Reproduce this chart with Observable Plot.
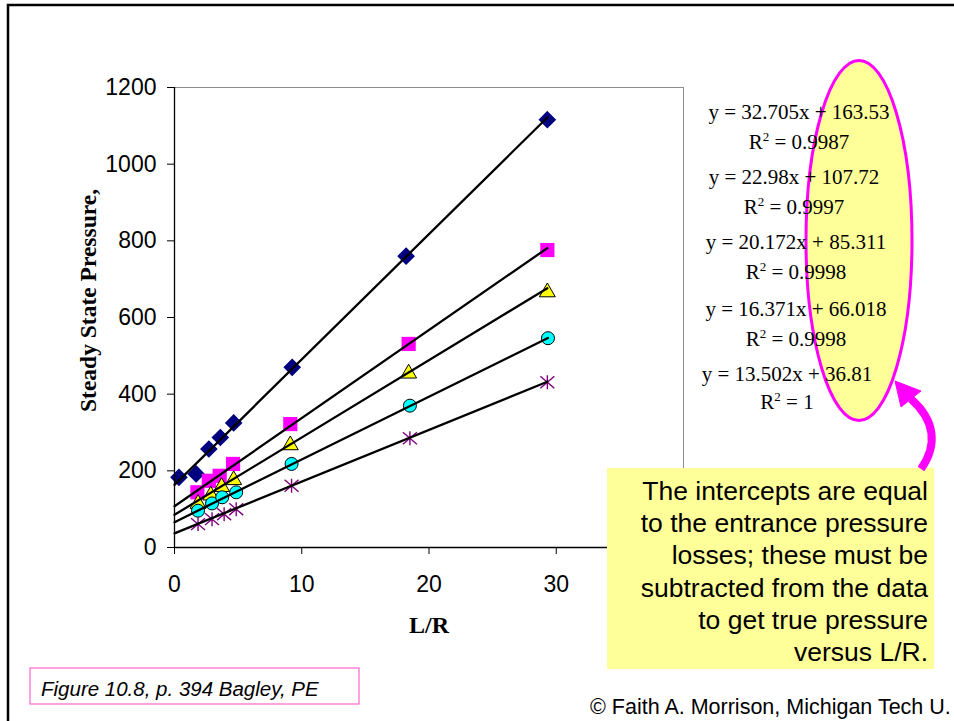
<!DOCTYPE html>
<html>
<head>
<meta charset="utf-8">
<script src="https://cdn.jsdelivr.net/npm/d3@7"></script>
<script src="https://cdn.jsdelivr.net/npm/@observablehq/plot@0.6"></script>
<style>
  html, body { margin: 0; padding: 0; background: #fff; }
  #chart { width: 954px; height: 721px; overflow: hidden; position: relative; }
  #chart svg { display: block; }
</style>
</head>
<body>
<div id="chart"></div>
<script>
// ---------------- data ----------------
const seriesNames = ["diamond", "square", "triangle", "circle", "star"];

const diamondX  = [0.35, 1.7, 2.7, 3.6, 4.65, 9.25, 18.2, 29.3];
const diamondY  = [183, 192, 257, 287, 325, 470, 760, 1116];

const squareX   = [1.8, 2.7, 3.55, 4.6, 9.1, 18.4, 29.3];
const squareY   = [144, 174, 187, 218, 322, 531, 776];

const triangleX = [1.85, 2.85, 3.7, 4.65, 9.1, 18.4, 29.3];
const triangleY = [114, 136, 158, 176, 267, 454, 666];

const circleX   = [1.85, 2.95, 3.75, 4.85, 9.2, 18.5, 29.35];
const circleY   = [96, 115, 131, 144, 218, 370, 546];

const starX     = [1.85, 2.95, 3.9, 4.85, 9.2, 18.5, 29.3];
const starY     = [61, 74, 87, 100, 161, 285, 431];

// trendline fits shown on the chart
const slopes     = [32.705, 22.98, 20.172, 16.371, 13.502];
const intercepts = [163.53, 107.72, 85.311, 66.018, 36.81];
const rSquared   = ["0.9987", "0.9997", "0.9998", "0.9998", "1"];

const xTicks = [0, 10, 20, 30];
const yTicks = [0, 200, 400, 600, 800, 1000, 1200];

const xLabel = "L/R";
const yLabel = "Steady State Pressure,";
const calloutLines = [
  "The intercepts are equal",
  "to the entrance pressure",
  "losses; these must be",
  "subtracted from the data",
  "to get true pressure",
  "versus L/R."
];
const captionText = "Figure 10.8, p. 394 Bagley, PE";
const creditText = "\u00A9 Faith A. Morrison, Michigan Tech U.";

// ---------------- build tables ----------------
const xs = [diamondX, squareX, triangleX, circleX, starX];
const ys = [diamondY, squareY, triangleY, circleY, starY];
const points = seriesNames.map((s, i) => xs[i].map((x, j) => ({series: s, x, y: ys[i][j]})));
const fitLines = seriesNames.flatMap((s, i) => {
  const xmax = d3.max(xs[i]);
  return [0, xmax].map(x => ({series: s, x, y: slopes[i] * x + intercepts[i]}));
});

// Excel-like "star" marker: an X with a vertical bar
const starSymbol = {
  draw(ctx, size) {
    const s = Math.sqrt(size / Math.PI);
    ctx.moveTo(0, -s); ctx.lineTo(0, s);
    ctx.moveTo(-s, -s * 0.85); ctx.lineTo(s, s * 0.85);
    ctx.moveTo(s, -s * 0.85); ctx.lineTo(-s, s * 0.85);
  }
};

const chart = Plot.plot({
  width: 954,
  height: 721,
  marginLeft: 174,
  marginRight: 271,
  marginTop: 87,
  marginBottom: 174,
  style: {
    fontFamily: "'Liberation Sans', Arial, sans-serif",
    fontSize: "23px",
    color: "black",
    background: "white",
    overflow: "visible"
  },
  x: {domain: [0, 40], ticks: xTicks, tickSize: 7, tickPadding: 21, tickFormat: d => String(d), label: null},
  y: {domain: [0, 1200], ticks: yTicks, tickSize: 7, tickPadding: 11, tickFormat: d => String(d), label: null},
  marks: [
    Plot.frame({stroke: "#8c8c8c", strokeWidth: 1}),
    Plot.dot(points[0], {x: "x", y: "y", symbol: "diamond2", r: 7, fill: "#000080", stroke: "#000080"}),
    Plot.dot(points[1], {x: "x", y: "y", symbol: "square", r: 8, fill: "#FF00FF", stroke: "none"}),
    Plot.dot(points[2], {x: "x", y: "y", symbol: "triangle", r: 5.9, fill: "#FFFF00", stroke: "black", strokeWidth: 1}),
    Plot.dot(points[3], {x: "x", y: "y", symbol: "circle", r: 6.5, fill: "#00FFFF", stroke: "black", strokeWidth: 1}),
    Plot.dot(points[4], {x: "x", y: "y", symbol: starSymbol, r: 7, fill: "none", stroke: "#800080", strokeWidth: 1.4}),
    Plot.line(fitLines, {x: "x", y: "y", z: "series", stroke: "black", strokeWidth: 2.3}),
    Plot.ruleX([0], {stroke: "black", strokeWidth: 1.3}),
    Plot.ruleY([0], {stroke: "black", strokeWidth: 1.3}),
    Plot.text([yLabel], {
      frameAnchor: "left", dx: -86, dy: -17, rotate: -90, textAnchor: "middle", lineAnchor: "middle",
      fontFamily: "'Liberation Serif', 'Times New Roman', serif", fontWeight: "bold", fontSize: 23.5, fill: "black"
    }),
    Plot.text([xLabel], {
      frameAnchor: "bottom", dy: 78, textAnchor: "middle", lineAnchor: "middle",
      fontFamily: "'Liberation Serif', 'Times New Roman', serif", fontWeight: "bold", fontSize: 24, fill: "black"
    })
  ]
});

document.getElementById("chart").appendChild(chart);

// ---------------- annotations ----------------
const svg = d3.select(chart);
const sans = "'Liberation Sans', Arial, sans-serif";
const serif = "'Liberation Serif', 'Times New Roman', serif";

// highlighted ellipse behind the equations
svg.append("ellipse")
  .attr("cx", 859).attr("cy", 240.5).attr("rx", 53).attr("ry", 180)
  .attr("fill", "#FFFF99").attr("stroke", "#FF00FF").attr("stroke-width", 3);

// trendline equations
const eqX = [799, 794, 796, 796, 787];
const eqY = [111.7, 176.7, 241.7, 308.3, 373.3];
const r2Y = [141.7, 206.7, 271.7, 338.3, 401.7];
slopes.forEach((m, i) => {
  svg.append("text")
    .attr("x", eqX[i]).attr("y", eqY[i]).attr("dy", "0.35em")
    .attr("text-anchor", "middle")
    .attr("font-family", serif).attr("font-size", 21).attr("fill", "black")
    .text(`y = ${m}x + ${intercepts[i]}`);
  const t = svg.append("text")
    .attr("x", eqX[i]).attr("y", r2Y[i]).attr("dy", "0.35em")
    .attr("text-anchor", "middle")
    .attr("font-family", serif).attr("font-size", 21).attr("fill", "black");
  t.append("tspan").text("R");
  t.append("tspan").attr("dy", -8).attr("font-size", 13).text("2");
  t.append("tspan").attr("dy", 8).text(` = ${rSquared[i]}`);
});

// callout box
svg.append("rect")
  .attr("x", 607).attr("y", 468).attr("width", 327).attr("height", 201)
  .attr("fill", "#FFFF99");
calloutLines.forEach((line, i) => {
  svg.append("text")
    .attr("x", 928).attr("y", 500 + i * 32.2)
    .attr("text-anchor", "end")
    .attr("font-family", sans)
    .attr("font-size", 26.5).attr("fill", "black")
    .text(line);
});

// curved magenta arrow
svg.append("path")
  .attr("d", "M 921 469 C 938 445, 935 420, 911 399")
  .attr("fill", "none").attr("stroke", "#FF00FF").attr("stroke-width", 8);
svg.append("path")
  .attr("d", "M 895 381 L 921 391 L 901 407 Z")
  .attr("fill", "#FF00FF").attr("stroke", "#FF00FF").attr("stroke-width", 1);

// source caption
svg.append("rect")
  .attr("x", 30).attr("y", 668).attr("width", 329).attr("height", 36)
  .attr("fill", "white").attr("stroke", "#FF66CC").attr("stroke-width", 1.2);
svg.append("text")
  .attr("x", 41).attr("y", 696)
  .attr("text-anchor", "start")
  .attr("font-family", sans)
  .attr("font-style", "italic").attr("font-size", 20.5).attr("fill", "black")
  .text(captionText);

// credit line
svg.append("text")
  .attr("x", 590).attr("y", 714)
  .attr("text-anchor", "start")
  .attr("font-family", sans)
  .attr("font-size", 21.5).attr("fill", "black")
  .text(creditText);

// outer slide frame
svg.append("rect")
  .attr("x", 8).attr("y", 5).attr("width", 1000).attr("height", 800)
  .attr("fill", "none").attr("stroke", "black").attr("stroke-width", 2.5);
</script>
</body>
</html>
